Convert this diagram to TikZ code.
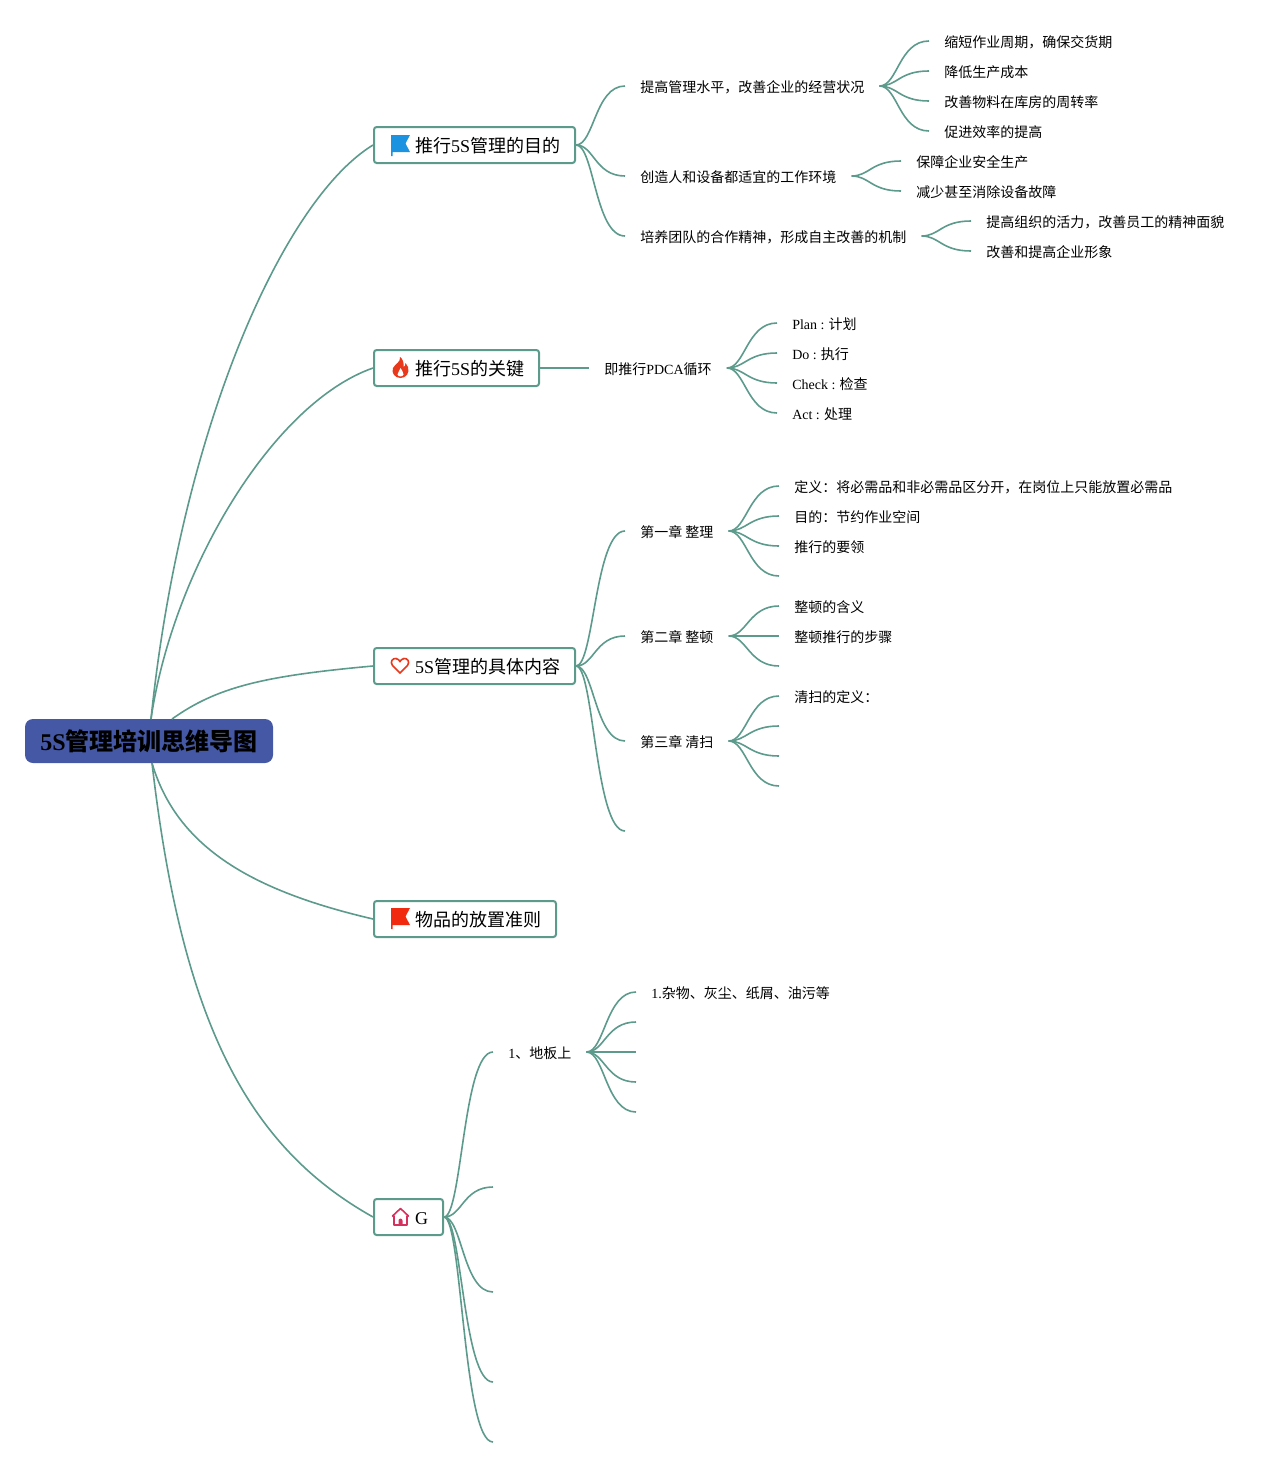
\documentclass[tikz,border=0pt]{standalone}
\usepackage{fontspec}
\setmainfont{Liberation Serif}
\newfontfamily\cjk{Noto Sans CJK SC}
\newcommand{\lat}[1]{{\rmfamily #1}}
\usetikzlibrary{arrows.meta,positioning}
\definecolor{linec}{HTML}{5C9A8B}
\definecolor{rootc}{HTML}{4458A5}
\definecolor{flagb}{HTML}{1C93E0}
\definecolor{flagr}{HTML}{F0290F}
\definecolor{firec}{HTML}{E8391C}
\definecolor{housec}{HTML}{D6305F}
\tikzset{
  flag/.pic={\path[pic actions] (0,0) -- (19,0) -- (14.5,8.5) -- (19,17) -- (1.5,17) -- (1.5,21) -- (0,21) -- cycle;},
  fire/.pic={\fill[firec] (8,0) .. controls (9,5) and (3,7) .. (1,11) .. controls (-1,16) and (3,21) .. (8.5,21) .. controls (14,21) and (18,16) .. (16,10) .. controls (15.5,8.5) and (14.5,7.5) .. (13.5,6) .. controls (13.5,8) and (13,9.5) .. (11.5,10) .. controls (12,6) and (11,2) .. (8,0) -- cycle;
    \fill[white] (8.5,11) .. controls (8.5,14) and (5,15) .. (5.5,17.5) .. controls (6,20) and (11,20) .. (11.5,17.5) .. controls (12,15) and (9.5,14) .. (8.5,11) -- cycle;},
  heart/.pic={\draw[firec,line width=1.2pt] (9,15) -- (1.5,7.5) .. controls (-1.5,3.5) and (2,0) .. (5,0.5) .. controls (7,0.8) and (8.5,2.5) .. (9,3.5) .. controls (9.5,2.5) and (11,0.8) .. (13,0.5) .. controls (16,0) and (19.5,3.5) .. (16.5,7.5) -- cycle;},
  house/.pic={\draw[housec,line width=1.2pt,line join=round] (0.5,8) -- (8.5,0.5) -- (16.5,8) -- (15,8) -- (15,17) -- (2,17) -- (2,8) -- cycle;
    \fill[housec] (6.5,17) -- (6.5,12.5) .. controls (6.5,10) and (10.5,10) .. (10.5,12.5) -- (10.5,17) -- cycle;}
}
\begin{document}
\begin{tikzpicture}[
  x=0.75pt,y=-0.75pt,
  font=\cjk\fontsize{10.5pt}{12pt}\selectfont,
  t/.style={anchor=west,inner xsep=11.25pt,inner ysep=0pt,text height=1.09em,text depth=.06em},
  m/.style={anchor=west,draw=linec,line width=1.5pt,rounded corners=2pt,fill=white,inner xsep=11.25pt,
            minimum height=27pt,inner ysep=0pt,text height=1.17em,text depth=.06em,
            font=\cjk\fontsize{13.5pt}{16pt}\selectfont},
  r/.style={fill=rootc,rounded corners=6pt,minimum width=186pt,minimum height=33pt,inner sep=0pt,
            text height=1.45em,text depth=.06em,
            font=\cjk\bfseries\fontsize{18pt}{20pt}\selectfont},
  l/.style={draw=linec,line width=1.2pt}]
\useasboundingbox (0,0) rectangle (1284,1467);

% centre
\node[r] (root) at (149,741) {\lat{5S}管理培训思维导图};
\coordinate (r1) at (151,719);
\coordinate (r3) at (172,719);
\coordinate (r4) at (152,763);

% main topics
\node[m] (goal) at (373,145) {\hspace*{19.5pt}推行\lat{5S}管理的目的};
\node[m] (key)  at (373,368) {\hspace*{19.5pt}推行\lat{5S}的关键};
\node[m] (cont) at (373,666) {\hspace*{19.5pt}\lat{5S}管理的具体内容};
\node[m] (rule) at (373,919) {\hspace*{19.5pt}物品的放置准则};
\node[m] (g)    at (373,1217) {\hspace*{19.5pt}\lat{G}};

% icons
\pic[fill=flagb] at (391,135) {flag};
\pic at (392,357) {fire};
\pic at (391,658) {heart};
\pic[fill=flagr] at (391,908) {flag};
\pic at (392,1208) {house};

% goal branch
\node[t] (g1) at (625,86) {提高管理水平，改善企业的经营状况};
\node[t] (g2) at (625,176) {创造人和设备都适宜的工作环境};
\node[t] (g3) at (625,236) {培养团队的合作精神，形成自主改善的机制};
\node[t] (g11) at (929,41) {缩短作业周期，确保交货期};
\node[t] (g12) at (929,71) {降低生产成本};
\node[t] (g13) at (929,101) {改善物料在库房的周转率};
\node[t] (g14) at (929,131) {促进效率的提高};
\node[t] (g21) at (901,161) {保障企业安全生产};
\node[t] (g22) at (901,191) {减少甚至消除设备故障};
\node[t] (g31) at (971,221) {提高组织的活力，改善员工的精神面貌};
\node[t] (g32) at (971,251) {改善和提高企业形象};

% key branch
\node[t] (k1) at (589,368) {即推行\lat{PDCA}循环};
\node[t] (k11) at (777,323) {\lat{Plan :} 计划};
\node[t] (k12) at (777,353) {\lat{Do :} 执行};
\node[t] (k13) at (777,383) {\lat{Check :} 检查};
\node[t] (k14) at (777,413) {\lat{Act :} 处理};

% content branch
\node[t] (c1) at (625,531) {第一章 整理};
\node[t] (c2) at (625,636) {第二章 整顿};
\node[t] (c3) at (625,741) {第三章 清扫};
\coordinate (c4) at (625,831);
\node[t] (c11) at (779,486) {定义：将必需品和非必需品区分开，在岗位上只能放置必需品};
\node[t] (c12) at (779,516) {目的：节约作业空间};
\node[t] (c13) at (779,546) {推行的要领};
\coordinate (c14) at (779,576);
\node[t] (c21) at (779,606) {整顿的含义};
\node[t] (c22) at (779,636) {整顿推行的步骤};
\coordinate (c23) at (779,666);
\node[t] (c31) at (779,696) {清扫的定义：};
\coordinate (c32) at (779,726);
\coordinate (c33) at (779,756);
\coordinate (c34) at (779,786);

% G branch
\node[t] (f1) at (493,1052) {\lat{1}、地板上};
\coordinate (f2) at (493,1187);
\coordinate (f3) at (493,1292);
\coordinate (f4) at (493,1382);
\coordinate (f5) at (493,1442);
\node[t] (f11) at (636,992) {\lat{1.}杂物、灰尘、纸屑、油污等};
\coordinate (f12) at (636,1022);
\coordinate (f13) at (636,1052);
\coordinate (f14) at (636,1082);
\coordinate (f15) at (636,1112);

% connectors from the centre
\draw[l] (r1) .. controls +(30,-290) and +(-90,55) .. (goal.west);
\draw[l] (r1) .. controls +(22,-150) and +(-100,35) .. (key.west);
\draw[l] (r3) .. controls +(45,-32) and +(-110,10) .. (cont.west);
\draw[l] (r4) .. controls +(25,85) and +(-120,-28) .. (rule.west);
\draw[l] (r4) .. controls +(30,260) and +(-125,-70) .. (g.west);

% connectors to named nodes
\foreach \a/\b in {goal/g1,goal/g2,goal/g3,key/k1,cont/c1,cont/c2,cont/c3,g1/g11,g1/g12,g1/g13,g1/g14,
    g2/g21,g2/g22,g3/g31,g3/g32,k1/k11,k1/k12,k1/k13,k1/k14,c1/c11,c1/c12,c1/c13,c2/c21,c2/c22,c3/c31,
    g/f1,f1/f11}
  { \draw[l] (\a.east) .. controls +(18,0) and +(-30,0) .. (\b.west); }

% connectors with free ends
\foreach \a/\b in {cont/c4,c1/c14,c2/c23,c3/c32,c3/c33,c3/c34,g/f2,g/f3,g/f4,g/f5,f1/f12,f1/f13,f1/f14,f1/f15}
  { \draw[l] (\a.east) .. controls +(18,0) and +(-30,0) .. (\b); }
\end{tikzpicture}
\end{document}
